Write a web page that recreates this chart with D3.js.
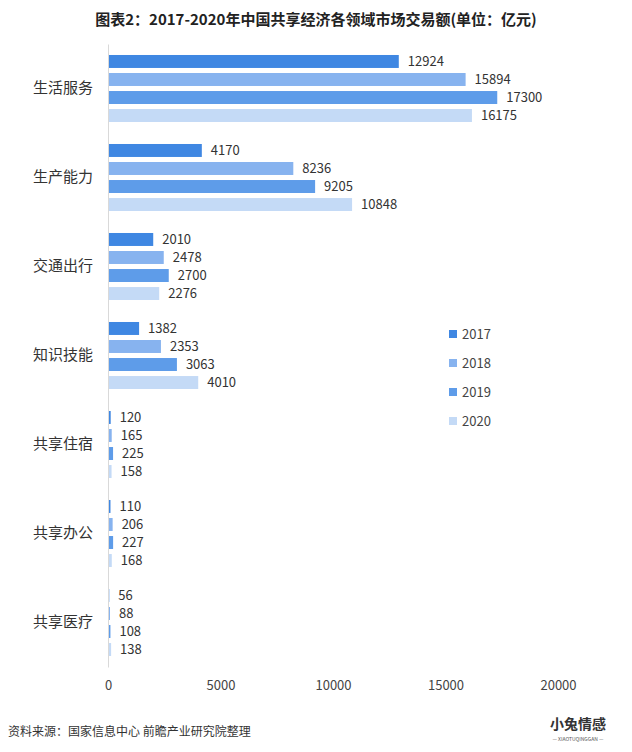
<!DOCTYPE html>
<html>
<head>
<meta charset="utf-8">
<script src="https://cdn.jsdelivr.net/npm/d3@7"></script>
<style>
  body { margin: 0; background: #fff; }
  text { font-family: "Noto Sans CJK SC", "Noto Sans", sans-serif; }
</style>
</head>
<body>
<div class="chart"></div>
<script>
const svgWidth = 632
const svgHeight = 752

// data
const categories = ["生活服务", "生产能力", "交通出行", "知识技能", "共享住宿", "共享办公", "共享医疗"]
const years = ["2017", "2018", "2019", "2020"]
const v2017 = [12924, 4170, 2010, 1382, 120, 110, 56]
const v2018 = [15894, 8236, 2478, 2353, 165, 206, 88]
const v2019 = [17300, 9205, 2700, 3063, 225, 227, 108]
const v2020 = [16175, 10848, 2276, 4010, 158, 168, 138]
const xTicks = [0, 5000, 10000, 15000, 20000]
const colors = ["#3f87e2", "#87b3ef", "#5e9ce9", "#c4daf6"]

const series = [v2017, v2018, v2019, v2020]

let margin = { top: 44, right: 74, bottom: 85, left: 108 }
let width = svgWidth - margin.left - margin.right
let height = svgHeight - margin.top - margin.bottom

let svg = d3.select(".chart")
  .append("svg")
  .attr("width", svgWidth)
  .attr("height", svgHeight)

svg.append("text")
  .attr("x", svgWidth / 2)
  .attr("y", 25)
  .attr("text-anchor", "middle")
  .attr("font-size", 15)
  .attr("font-weight", "bold")
  .attr("fill", "#222")
  .text("图表2：2017-2020年中国共享经济各领域市场交易额(单位：亿元)")

let chartGroup = svg.append("g")
  .attr("transform", `translate(${margin.left}, ${margin.top})`)

let x = d3.scaleLinear().domain([0, 20000]).range([0, 450])

let y0 = d3.scaleBand()
  .domain(categories)
  .range([0, height])
  .paddingInner(0.247)
  .paddingOuter(0.1235)

let y1 = d3.scaleBand()
  .domain(years)
  .range([0, y0.bandwidth()])
  .paddingInner(0.28)

let groups = chartGroup.selectAll(".cat")
  .data(categories)
  .enter()
  .append("g")
  .attr("transform", d => `translate(0, ${y0(d)})`)

years.forEach((yr, si) => {
  groups.append("rect")
    .attr("x", 0)
    .attr("y", y1(yr))
    .attr("width", (d, i) => x(series[si][i]))
    .attr("height", y1.bandwidth())
    .attr("fill", colors[si])

  groups.append("text")
    .attr("x", (d, i) => x(series[si][i]) + 9)
    .attr("y", y1(yr) + y1.bandwidth() / 2)
    .attr("dy", "0.36em")
    .attr("font-size", 13)
    .attr("fill", "#333")
    .text((d, i) => series[si][i])
})

// category labels
let leftAxis = d3.axisLeft(y0).tickSize(0).tickPadding(15)
let yAxis = chartGroup.append("g").call(leftAxis)
yAxis.select(".domain").attr("stroke", "#d9d9d9")
yAxis.selectAll("text")
  .attr("font-size", 15)
  .attr("fill", "#333")
  .style("font-family", "'Noto Sans CJK SC', sans-serif")

// x tick labels
let bottomAxis = d3.axisBottom(x).tickValues(xTicks).tickFormat(d3.format("d")).tickSize(0).tickPadding(14)
let xAxis = chartGroup.append("g")
  .attr("transform", `translate(0, ${height})`)
  .call(bottomAxis)
xAxis.select(".domain").remove()
xAxis.selectAll("text")
  .attr("font-size", 13)
  .attr("fill", "#444")
  .style("font-family", "'Noto Sans CJK SC', sans-serif")

// legend
let legend = svg.append("g").attr("transform", "translate(449, 334)")
years.forEach((yr, i) => {
  let row = legend.append("g").attr("transform", `translate(0, ${i * 29})`)
  row.append("rect")
    .attr("x", 0).attr("y", -4)
    .attr("width", 8).attr("height", 8)
    .attr("fill", colors[i])
  row.append("text")
    .attr("x", 13).attr("y", 0)
    .attr("dy", "0.36em")
    .attr("font-size", 13)
    .attr("fill", "#444")
    .text(yr)
})

// source line
svg.append("text")
  .attr("x", 8)
  .attr("y", 736)
  .attr("font-size", 12)
  .attr("fill", "#333")
  .text("资料来源：国家信息中心 前瞻产业研究院整理")

svg.append("text")
  .attr("x", 578)
  .attr("y", 729)
  .attr("text-anchor", "middle")
  .attr("font-size", 14)
  .attr("font-weight", "bold")
  .attr("fill", "#333")
  .text("小兔情感")
svg.append("text")
  .attr("x", 578)
  .attr("y", 741)
  .attr("text-anchor", "middle")
  .attr("font-size", 5)
  .attr("fill", "#555")
  .text("— XIAOTUQINGGAN —")
</script>
</body>
</html>
